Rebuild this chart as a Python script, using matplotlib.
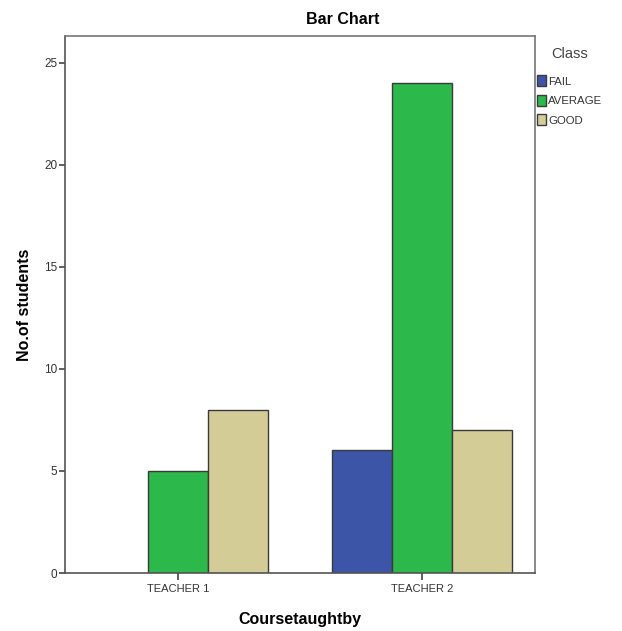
import matplotlib
matplotlib.use("Agg")
import matplotlib.pyplot as plt
import numpy as np
from matplotlib.patches import Patch

plt.rcParams['font.family'] = ['Liberation Sans', 'DejaVu Sans']

teachers = ["TEACHER 1", "TEACHER 2"]
classes = ["FAIL", "AVERAGE", "GOOD"]
fail = [0, 6]
average = [5, 24]
good = [8, 7]
colors = ["#3d55a6", "#2db84b", "#d3cc97"]

fig = plt.figure(figsize=(6.22, 6.31), dpi=100)
ax = fig.add_axes([0.1037, 0.0919, 0.7563, 0.8511])

x = np.arange(len(teachers))
w = 0.246
for i, (vals, c) in enumerate(zip([fail, average, good], colors)):
    vals = np.array(vals, dtype=float)
    mask = vals > 0
    ax.bar(x[mask] + (i - 1) * w, vals[mask], width=w, color=c,
           edgecolor="#3a3a3a", linewidth=1.0)

ax.set_xlim(-0.465, 1.463)
ax.set_ylim(0, 26.3)
ax.set_yticks([0, 5, 10, 15, 20, 25])
ax.set_xticks(x)
ax.set_xticklabels(teachers)
ax.tick_params(axis="y", labelsize=8.5, length=4, width=1.2, color="#444444",
               labelcolor="#333333", pad=1)
ax.tick_params(axis="x", labelsize=8, length=5, width=1.2, color="#444444",
               labelcolor="#333333", pad=3)
for s in ax.spines.values():
    s.set_color("#777777")
    s.set_linewidth(1.2)
ax.spines["left"].set_color("#555555")
ax.spines["bottom"].set_color("#555555")

fig.text(0.551, 0.969, "Bar Chart", fontsize=11.5, fontweight="bold",
         ha="center", va="center")
ax.set_ylabel("No.of students", fontsize=11.5, fontweight="bold", labelpad=9)
ax.set_xlabel("Coursetaughtby", fontsize=11.5, fontweight="bold", labelpad=13)

handles = [Patch(facecolor=c, edgecolor="#3a3a3a", label=l) for c, l in zip(colors, classes)]
leg = fig.legend(handles=handles, title="Class", loc="upper left",
                 bbox_to_anchor=(0.863, 0.925), frameon=False, fontsize=8.2,
                 title_fontsize=10.5, handlelength=0.85, handleheight=1.1,
                 handletextpad=0.15, labelspacing=0.72, borderaxespad=0,
                 borderpad=0)
leg.get_title().set_color("#444444")
leg._legend_box.sep = 10
for t in leg.get_texts():
    t.set_color("#333333")

fig.savefig("out.png", dpi=100)
